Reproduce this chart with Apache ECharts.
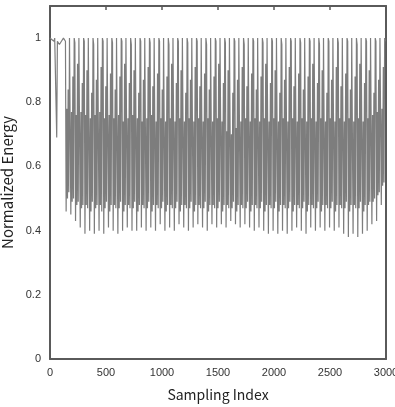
<!DOCTYPE html>
<html>
<head>
<meta charset="utf-8">
<script src="https://cdn.jsdelivr.net/npm/echarts@6/dist/echarts.min.js"></script>
<style>
  html, body { margin: 0; padding: 0; background: #fff; }
  #chart { width: 395px; height: 407px; }
</style>
</head>
<body>
<div id="chart"></div>
<script>
// tick labels
const xTicks = [0, 500, 1000, 1500, 2000, 2500, 3000];
const yTicks = [0, 0.2, 0.4, 0.6, 0.8, 1];

// one reading every 6 samples
const sampleStep = 6;

// normalized energy (start: flat part, then one row per ~42 samples)
const energy = [
  1.0, 1.0, 1.0, 0.995, 1.0, 1.0, 0.99, 1.0, 0.995, 1.0, 0.69,
  0.99, 0.985, 0.99, 0.98, 0.975, 0.985, 0.99, 0.995, 0.99, 1.0, 1.0,
  1.0, 0.99, 0.46, 0.78, 0.50, 0.84, 0.52,
  1.0, 1.0, 0.45, 0.77, 0.49, 0.88, 0.50,
  1.0, 0.985, 0.43, 0.76, 0.48, 0.92, 0.49,
  1.0, 0.995, 0.41, 0.77, 0.47, 0.86, 0.48,
  1.0, 0.99, 0.39, 0.76, 0.48, 0.90, 0.47,
  1.0, 1.0, 0.40, 0.75, 0.46, 0.83, 0.49,
  1.0, 0.98, 0.39, 0.76, 0.47, 0.87, 0.48,
  1.0, 0.995, 0.40, 0.77, 0.48, 0.91, 0.46,
  1.0, 0.99, 0.39, 0.75, 0.47, 0.85, 0.49,
  1.0, 1.0, 0.41, 0.76, 0.46, 0.89, 0.48,
  1.0, 0.985, 0.40, 0.75, 0.48, 0.84, 0.47,
  1.0, 0.995, 0.39, 0.76, 0.47, 0.88, 0.49,
  1.0, 0.99, 0.40, 0.74, 0.46, 0.92, 0.48,
  1.0, 1.0, 0.41, 0.75, 0.48, 0.86, 0.47,
  1.0, 0.98, 0.40, 0.76, 0.47, 0.90, 0.49,
  1.0, 0.995, 0.40, 0.75, 0.46, 0.83, 0.48,
  1.0, 0.99, 0.41, 0.74, 0.48, 0.87, 0.47,
  1.0, 1.0, 0.40, 0.75, 0.47, 0.91, 0.49,
  1.0, 0.985, 0.41, 0.76, 0.46, 0.85, 0.48,
  1.0, 0.995, 0.40, 0.74, 0.48, 0.89, 0.47,
  1.0, 0.99, 0.42, 0.75, 0.47, 0.84, 0.49,
  1.0, 1.0, 0.40, 0.74, 0.46, 0.88, 0.48,
  1.0, 0.98, 0.41, 0.75, 0.48, 0.92, 0.47,
  1.0, 0.995, 0.40, 0.74, 0.47, 0.86, 0.49,
  1.0, 0.99, 0.42, 0.75, 0.46, 0.90, 0.48,
  1.0, 1.0, 0.41, 0.74, 0.48, 0.83, 0.47,
  1.0, 0.985, 0.40, 0.75, 0.47, 0.87, 0.49,
  1.0, 0.995, 0.41, 0.74, 0.46, 0.91, 0.48,
  1.0, 0.99, 0.42, 0.75, 0.48, 0.85, 0.47,
  1.0, 1.0, 0.41, 0.74, 0.47, 0.89, 0.49,
  1.0, 0.98, 0.40, 0.75, 0.46, 0.84, 0.48,
  1.0, 0.995, 0.42, 0.74, 0.48, 0.88, 0.47,
  1.0, 0.99, 0.41, 0.75, 0.47, 0.92, 0.49,
  1.0, 1.0, 0.42, 0.74, 0.46, 0.86, 0.48,
  1.0, 0.985, 0.41, 0.71, 0.48, 0.90, 0.47,
  1.0, 0.995, 0.43, 0.70, 0.47, 0.83, 0.49,
  1.0, 0.99, 0.42, 0.72, 0.46, 0.87, 0.48,
  1.0, 1.0, 0.41, 0.74, 0.48, 0.91, 0.47,
  1.0, 0.98, 0.42, 0.75, 0.47, 0.85, 0.49,
  1.0, 0.995, 0.41, 0.74, 0.46, 0.89, 0.48,
  1.0, 0.99, 0.40, 0.75, 0.48, 0.84, 0.47,
  1.0, 1.0, 0.41, 0.74, 0.47, 0.88, 0.49,
  1.0, 0.985, 0.40, 0.75, 0.46, 0.92, 0.48,
  1.0, 0.995, 0.39, 0.74, 0.48, 0.86, 0.47,
  1.0, 0.99, 0.40, 0.75, 0.47, 0.90, 0.49,
  1.0, 1.0, 0.39, 0.74, 0.46, 0.83, 0.48,
  1.0, 0.98, 0.40, 0.75, 0.48, 0.87, 0.47,
  1.0, 0.995, 0.39, 0.74, 0.47, 0.91, 0.49,
  1.0, 0.99, 0.40, 0.75, 0.46, 0.85, 0.48,
  1.0, 1.0, 0.41, 0.74, 0.48, 0.89, 0.47,
  1.0, 0.985, 0.40, 0.75, 0.47, 0.84, 0.49,
  1.0, 0.995, 0.39, 0.74, 0.46, 0.88, 0.48,
  1.0, 0.99, 0.41, 0.75, 0.48, 0.92, 0.47,
  1.0, 1.0, 0.40, 0.74, 0.47, 0.86, 0.49,
  1.0, 0.98, 0.41, 0.75, 0.46, 0.90, 0.48,
  1.0, 0.995, 0.40, 0.74, 0.48, 0.83, 0.47,
  1.0, 0.99, 0.41, 0.75, 0.47, 0.87, 0.49,
  1.0, 1.0, 0.40, 0.74, 0.46, 0.91, 0.48,
  1.0, 0.985, 0.41, 0.75, 0.48, 0.85, 0.47,
  1.0, 0.995, 0.39, 0.74, 0.47, 0.89, 0.49,
  1.0, 0.99, 0.38, 0.75, 0.46, 0.84, 0.48,
  1.0, 1.0, 0.39, 0.74, 0.48, 0.88, 0.47,
  1.0, 0.98, 0.38, 0.75, 0.47, 0.92, 0.49,
  1.0, 0.995, 0.39, 0.74, 0.46, 0.86, 0.48,
  1.0, 0.99, 0.40, 0.75, 0.48, 0.90, 0.49,
  1.0, 1.0, 0.42, 0.76, 0.49, 0.83, 0.50,
  1.0, 0.99, 0.43, 0.77, 0.51, 0.87, 0.52,
  1.0, 0.995, 0.48, 0.78, 0.54, 0.91, 0.55,
  1.0, 0.99
];

const chart = echarts.init(document.getElementById('chart'), null, { renderer: 'canvas' });

const axisGray = '#5a5a5a';
const labelFont = { color: '#333', fontSize: 11, fontFamily: 'Liberation Sans, Arial, sans-serif' };

chart.setOption({
  animation: false,
  backgroundColor: '#fff',
  grid: { left: 50, right: 9, top: 6, bottom: 48, containLabel: false, outerBoundsMode: 'none' },
  xAxis: [
    {
      type: 'value',
      min: 0,
      max: 3000,
      interval: 500,
      name: 'Sampling Index',
      nameLocation: 'middle',
      nameGap: 29,
      nameTextStyle: { color: '#222', fontSize: 14, fontFamily: 'Noto Sans CJK JP, sans-serif' },
      axisLine: { show: true, onZero: false, lineStyle: { color: axisGray, width: 2 } },
      axisTick: { show: false },
      axisLabel: Object.assign({ margin: 8, formatter: v => (xTicks.includes(v) ? String(v) : '') }, labelFont),
      splitLine: { show: false }
    },
    {
      type: 'value',
      position: 'top',
      min: 0,
      max: 3000,
      interval: 500,
      axisLine: { show: true, onZero: false, lineStyle: { color: axisGray, width: 2 } },
      axisTick: { show: true, inside: true, length: 4, lineStyle: { color: axisGray, width: 1.5 } },
      axisLabel: { show: false },
      splitLine: { show: false }
    }
  ],
  yAxis: [
    {
      type: 'value',
      min: 0,
      max: 1.1,
      interval: 0.2,
      name: 'Normalized Energy',
      nameLocation: 'middle',
      nameGap: 30,
      nameTextStyle: { color: '#222', fontSize: 15, fontFamily: 'Noto Sans CJK JP, sans-serif' },
      axisLine: { show: true, onZero: false, lineStyle: { color: axisGray, width: 2 } },
      axisTick: { show: false },
      axisLabel: Object.assign({
        margin: 9,
        showMaxLabel: false,
        formatter: v => {
          const hit = yTicks.find(t => Math.abs(t - v) < 1e-6);
          return hit === undefined ? '' : String(hit);
        }
      }, labelFont),
      splitLine: { show: false }
    },
    {
      type: 'value',
      position: 'right',
      min: 0,
      max: 1.1,
      interval: 0.2,
      axisLine: { show: true, onZero: false, lineStyle: { color: axisGray, width: 2 } },
      axisTick: { show: false },
      axisLabel: { show: false },
      splitLine: { show: false }
    }
  ],
  series: [
    {
      type: 'line',
      xAxisIndex: 0,
      yAxisIndex: 0,
      data: energy.map((v, i) => [i * sampleStep, v]),
      showSymbol: false,
      symbol: 'none',
      sampling: null,
      clip: true,
      lineStyle: { color: '#7d7d7d', width: 1.2 }
    }
  ]
});
</script>
</body>
</html>
